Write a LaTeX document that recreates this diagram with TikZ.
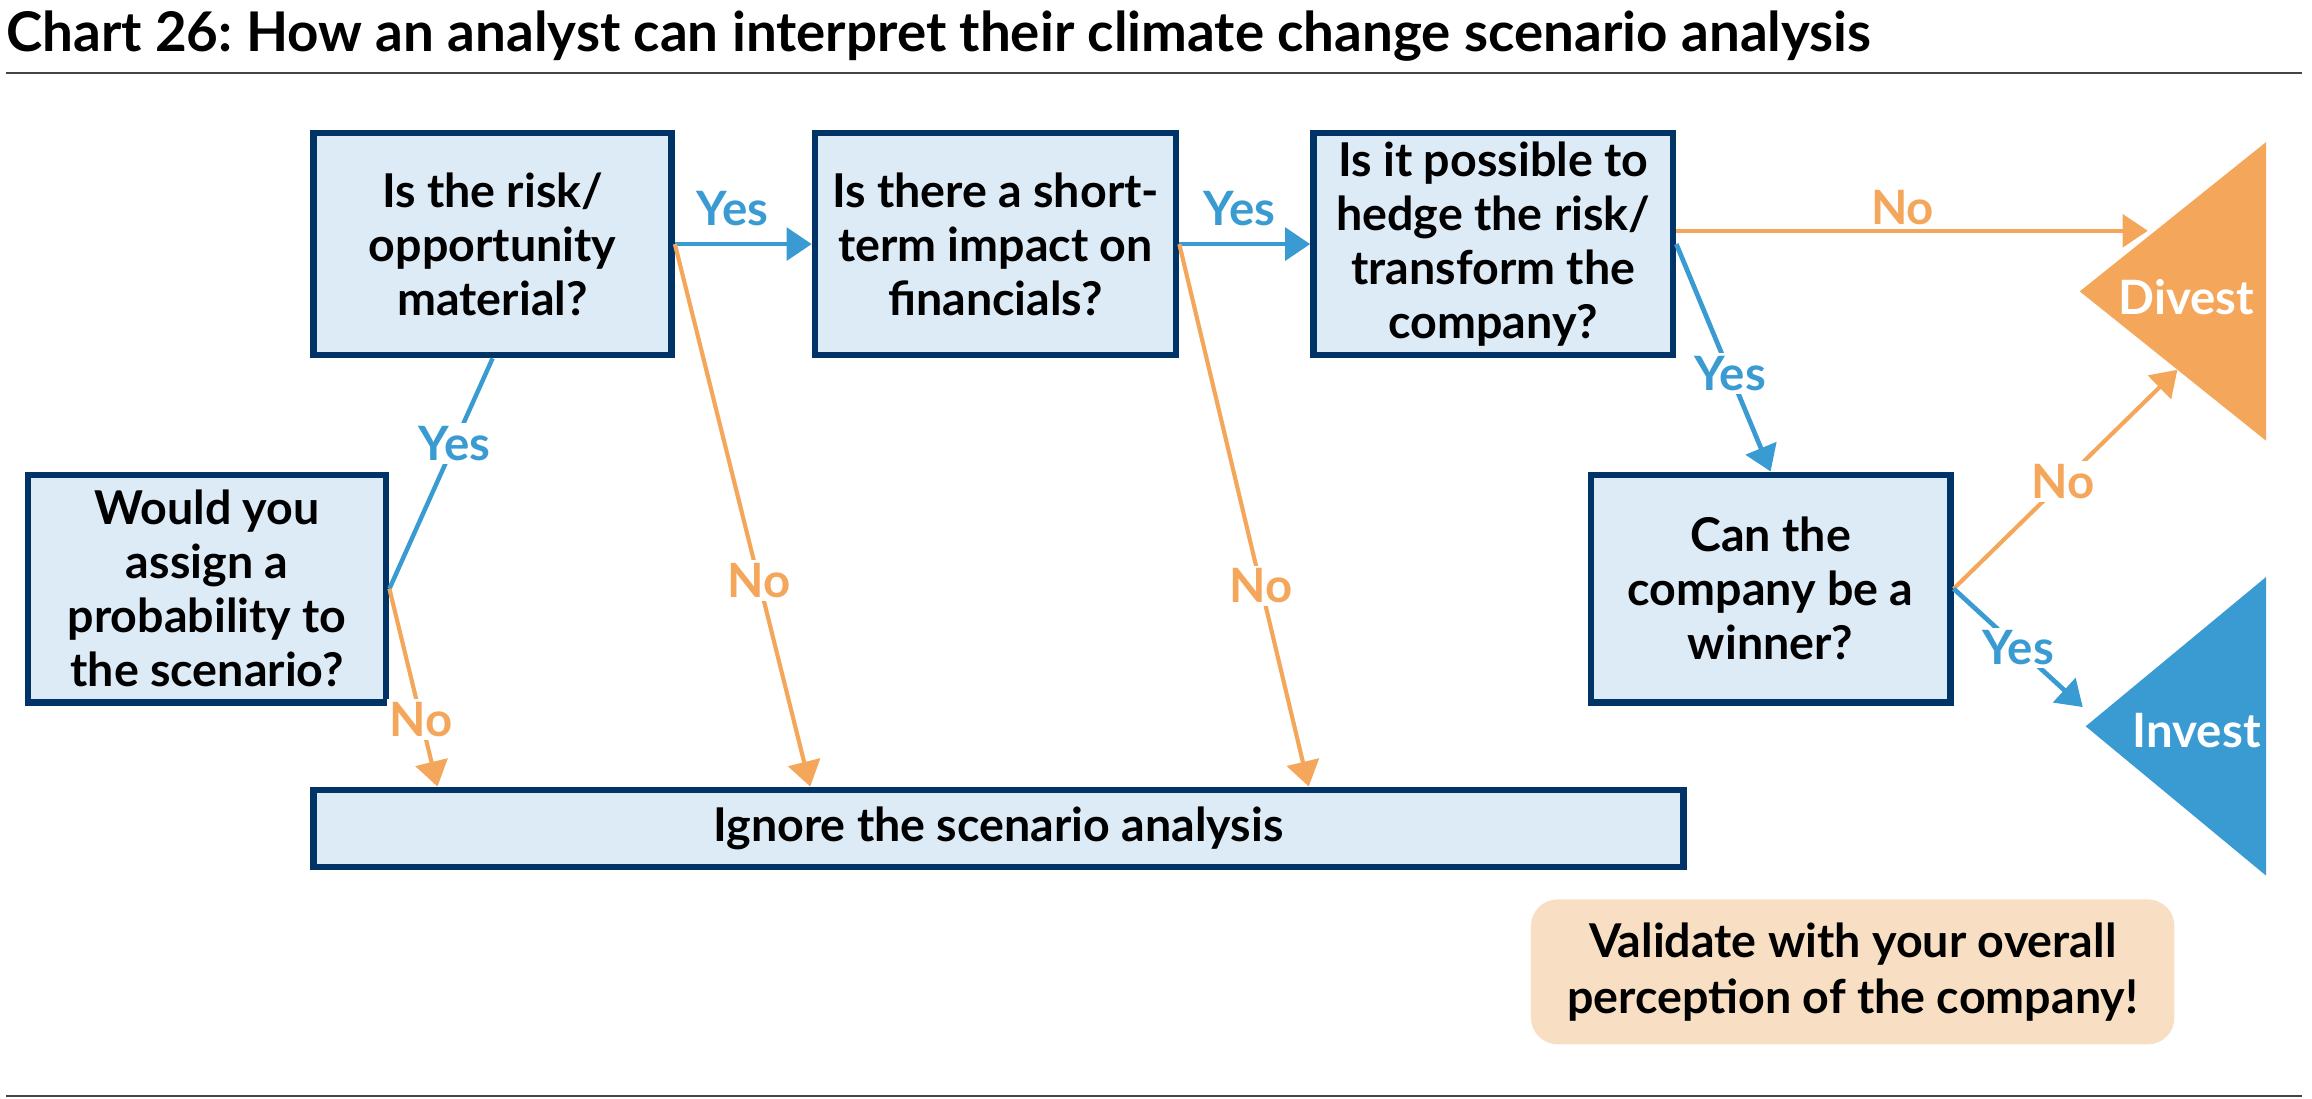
\documentclass[tikz,border=0pt]{standalone}
\usepackage{fontspec}
\setmainfont{Lato}
\usetikzlibrary{arrows.meta,calc}
\definecolor{navy}{HTML}{003366}
\definecolor{boxfill}{HTML}{DDEBF7}
\definecolor{cblue}{HTML}{3A9BD3}
\definecolor{corange}{HTML}{F4A65B}
\definecolor{peach}{HTML}{F8DFC3}
\definecolor{rulegray}{HTML}{444444}
\frenchspacing
\begin{document}
\begin{tikzpicture}[x=1pt,y=-1pt,
  qbox/.style={draw=navy, line width=4.5pt, fill=boxfill, align=center,
    font=\fontsize{31.5}{36.5}\selectfont\bfseries, inner sep=0pt},
  lab/.style={font=\fontsize{32}{36}\selectfont\bfseries, inner sep=2pt},
  ylab/.style={lab, text=cblue},
  nlab/.style={lab, text=corange},
  cut/.style={fill=white},
  barrow/.style={draw=cblue, line width=3.2pt, -{Triangle[length=17pt,width=22pt]}},
  oarrow/.style={draw=corange, line width=2.8pt, -{Triangle[length=17pt,width=22pt]}},
  bline/.style={draw=cblue, line width=3pt}
]
\useasboundingbox (0,0) rectangle (1563,742.3);

% title and rules
\node[anchor=base west, inner sep=0pt, font=\fontsize{37}{42}\selectfont\bfseries] (title) at (4,35)
  {Chart 26: How an analyst can interpret their climate change scenario analysis};
\coordinate (r1a) at (4,49.5); \coordinate (r1b) at (1556,49.5);
\coordinate (r2a) at (4,741.2); \coordinate (r2b) at (1556,741.2);
\draw[rulegray, line width=1.3pt] (r1a) -- (r1b);
\draw[rulegray, line width=1.3pt] (r2a) -- (r2b);

% boxes
\node[qbox, minimum width=242, minimum height=150] (A) at (333,165)
  {Is the risk/\\opportunity\\material?};
\node[qbox, minimum width=244, minimum height=150] (B) at (673,165)
  {Is there a short-\\term impact on\\financials?};
\node[qbox, minimum width=243, minimum height=150] (C) at (1009.5,165)
  {Is it possible to\\hedge the risk/\\transform the\\company?};
\node[qbox, minimum width=242, minimum height=154] (D) at (140,398)
  {Would you\\assign a\\probability to\\the scenario?};
\node[qbox, minimum width=926, minimum height=52] (E) at (675,560)
  {Ignore the scenario analysis};
\node[qbox, minimum width=243, minimum height=154] (F) at (1197,398)
  {Can the\\company be a\\winner?};
\node[fill=peach, rounded corners=18pt, minimum width=435, minimum height=98,
  align=center, font=\fontsize{31.5}{38}\selectfont\bfseries, inner sep=0pt] (V) at (1252.5,657)
  {Validate with your overall\\perception of the company!};

% triangles
\coordinate (dv1) at (1532,96); \coordinate (dv2) at (1532,298); \coordinate (dv3) at (1406,197);
\coordinate (iv1) at (1532,390); \coordinate (iv2) at (1532,592); \coordinate (iv3) at (1410,491);
\fill[corange] (dv1) -- (dv2) -- (dv3) -- cycle;
\fill[cblue] (iv1) -- (iv2) -- (iv3) -- cycle;
\node[lab, text=white] (divest) at (1478,201) {Divest};
\node[lab, text=white] (invest) at (1485,494) {Invest};

% connector end points
\coordinate (Cout) at ($(C.east)+(0,-9)$);
\coordinate (toDiv) at (1452,156);
\coordinate (toDiv2) at (1472,250);
\coordinate (toInv) at (1408,478);
\coordinate (Ed) at ($(E.north west)+(86,0)$);
\coordinate (Ea) at ($(E.north west)+(338,0)$);
\coordinate (Eb) at ($(E.north west)+(675,0)$);

% connectors
\draw[barrow] (A.east) -- (B.west) node[ylab, pos=0.42, yshift=24pt] {Yes};
\draw[barrow] (B.east) -- (C.west) node[ylab, pos=0.46, yshift=24pt] {Yes};
\draw[oarrow] (Cout) -- (toDiv) node[nlab, pos=0.48, yshift=16pt] {No};
\draw[barrow] (C.east) -- (F.north) node[ylab, cut, pos=0.57] {Yes};
\draw[bline] (A.south) -- (D.east) node[ylab, cut, pos=0.37] {Yes};
\draw[oarrow] (D.east) -- (Ed) node[nlab, cut, pos=0.66] {No};
\draw[oarrow] (A.east) -- (Ea) node[nlab, cut, pos=0.62] {No};
\draw[oarrow] (B.east) -- (Eb) node[nlab, cut, pos=0.63] {No};
\draw[oarrow] (F.east) -- (toDiv2) node[nlab, cut, pos=0.49] {No};
\draw[barrow] (F.east) -- (toInv) node[ylab, cut, pos=0.5] {Yes};
\end{tikzpicture}
\end{document}
